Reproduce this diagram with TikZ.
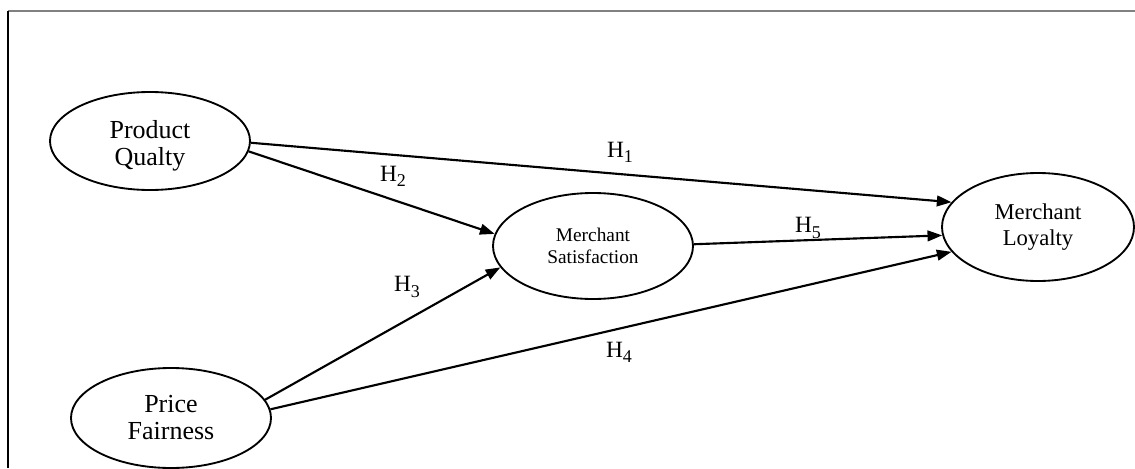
\documentclass[tikz,border=0pt]{standalone}
\usepackage{fontspec}
\setmainfont{Liberation Serif}
\usetikzlibrary{shapes.geometric,arrows.meta}
\newcommand{\hyp}[1]{H\raisebox{-0.22em}{\fontsize{13.5}{14}\selectfont #1}}
\begin{document}
\begin{tikzpicture}[x=0.75pt,y=-0.75pt,
  construct/.style={draw,ellipse,line width=1.4pt,inner sep=0pt,align=center},
  link/.style={line width=1.6pt,-{Triangle[length=11pt,width=8pt]}},
  hlabel/.style={inner sep=1pt,font=\fontsize{17.5}{19}\selectfont}]
\useasboundingbox (0,0) rectangle (1135,468);
\draw[gray,line width=1.3pt] (8,11) -- (1135,11);
\draw[black,line width=0.9pt] (8,11) -- (8,468);
\node[construct,minimum width=150pt,minimum height=73.5pt,font=\fontsize{19.5}{20.25}\selectfont] (pq) at (150,141) {\rule{0pt}{1.1em}Product\\Qualty};
\node[construct,minimum width=150pt,minimum height=75pt,font=\fontsize{19.5}{20.25}\selectfont] (pf) at (171,418) {Price\\Fairness};
\node[construct,minimum width=150pt,minimum height=79.5pt,font=\fontsize{14.5}{17}\selectfont] (ms) at (593,246) {Merchant\\Satisfaction};
\node[construct,minimum width=144pt,minimum height=81pt,font=\fontsize{17}{20}\selectfont] (ml) at (1038,227) {Merchant\\Loyalty};
\draw[link] (pq.-1) -- (ml.164.6);
\draw[link] (pq.-6.8) -- (ms.173.5);
\draw[link] (pf.11.8) -- (ms.193.3);
\draw[link] (pf.5.7) -- (ml.196.8);
\draw[link] (ms.1.7) -- (ml.185.2);
\node[hlabel] (h1) at (620,152) {\hyp{1}};
\node[hlabel] (h2) at (393,176) {\hyp{2}};
\node[hlabel] (h3) at (407,287) {\hyp{3}};
\node[hlabel] (h4) at (619,352) {\hyp{4}};
\node[hlabel] (h5) at (808,228) {\hyp{5}};
\end{tikzpicture}
\end{document}
